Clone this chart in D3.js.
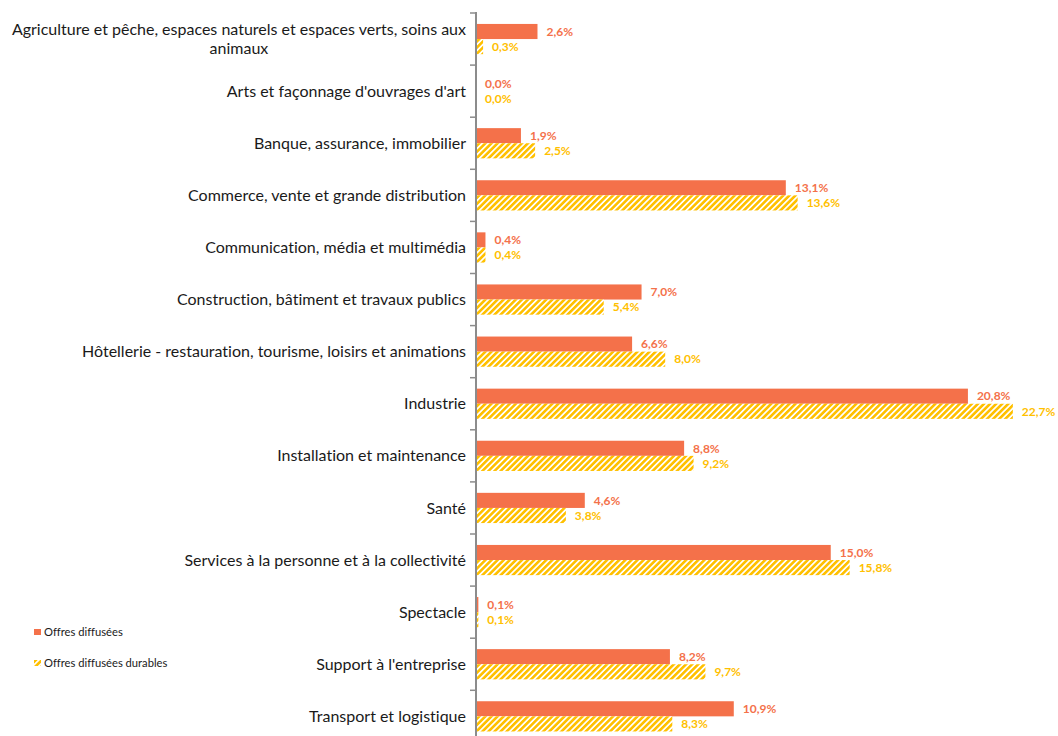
<!DOCTYPE html>
<html lang="fr">
  <head>
    <meta charset="utf-8">
    <title>Offres diffusées par secteur</title>
    <script src="https://d3js.org/d3.v7.min.js"></script>
    <style>
      body { margin: 0; background: #fff; }
      svg { display: block; font-family: Lato, "Open Sans", sans-serif; font-variant-ligatures: none; }
      .cat { font-size: 16px; fill: #1a1a1a; }
      .val { font-size: 12px; font-weight: bold; }
      .leg { font-size: 11.2px; fill: #1a1a1a; }
    </style>
  </head>
  <body>
    <svg id="chart" width="1058" height="736"></svg>
    <script>
      // data
      const categories = [
        "Agriculture et pêche, espaces naturels et espaces verts, soins aux|animaux",
        "Arts et façonnage d'ouvrages d'art",
        "Banque, assurance, immobilier",
        "Commerce, vente et grande distribution",
        "Communication, média et multimédia",
        "Construction, bâtiment et travaux publics",
        "Hôtellerie - restauration, tourisme, loisirs et animations",
        "Industrie",
        "Installation et maintenance",
        "Santé",
        "Services à la personne et à la collectivité",
        "Spectacle",
        "Support à l'entreprise",
        "Transport et logistique"
      ];
      const offres = [2.6, 0.0, 1.9, 13.1, 0.4, 7.0, 6.6, 20.8, 8.8, 4.6, 15.0, 0.1, 8.2, 10.9];
      const offresDurables = [0.3, 0.0, 2.5, 13.6, 0.4, 5.4, 8.0, 22.7, 9.2, 3.8, 15.8, 0.1, 9.7, 8.3];
      const seriesNames = ["Offres diffusées", "Offres diffusées durables"];

      const orange = "#f4714a";
      const yellow = "#ffc000";

      const svg = d3.select("#chart");

      const defs = svg.append("defs");
      const pat = defs.append("pattern")
        .attr("id", "stripes")
        .attr("patternUnits", "userSpaceOnUse")
        .attr("width", 4.3).attr("height", 4.3)
        .attr("patternTransform", "rotate(45)");
      pat.append("rect").attr("width", 4.3).attr("height", 4.3).attr("fill", "#fff");
      pat.append("rect").attr("width", 2.6).attr("height", 4.3).attr("fill", yellow);

      const x0 = 476;
      const x = d3.scaleLinear().domain([0, 25]).range([x0, x0 + 25 * 23.65]);
      const y = d3.scaleBand()
        .domain(d3.range(categories.length))
        .range([13, 13 + 52.1 * categories.length])
        .paddingInner(0.42).paddingOuter(0.21);
      const ys = d3.scaleBand().domain([0, 1]).range([0, y.bandwidth()]);

      const rows = categories.map((c, i) => ({ i, c, v: [offres[i], offresDurables[i]] }));

      const g = svg.selectAll("g.row").data(rows).join("g")
        .attr("class", "row")
        .attr("transform", d => `translate(0,${y(d.i)})`);

      // bars
      g.selectAll("rect").data(d => d.v).join("rect")
        .attr("x", x(0))
        .attr("y", (d, k) => ys(k))
        .attr("width", d => x(d) - x(0))
        .attr("height", ys.bandwidth())
        .attr("fill", (d, k) => k === 0 ? orange : "url(#stripes)");

      // value labels
      g.selectAll("text.val").data(d => d.v).join("text")
        .attr("class", "val")
        .attr("x", d => x(d) + 9)
        .attr("y", (d, k) => ys(k) + ys.bandwidth() / 2)
        .attr("dy", "0.35em")
        .attr("fill", (d, k) => k === 0 ? orange : yellow)
        .text(d => d3.format(".1f")(d).replace(".", ",") + "%");

      // category labels
      const labX = 466;
      svg.selectAll("text.cat").data(rows).join("text")
        .attr("class", "cat")
        .each(function(d) {
          const lines = d.c.split("|");
          const t = d3.select(this);
          const cy = y(d.i) + y.bandwidth() / 2;
          if (lines.length === 1) {
            t.attr("x", labX).attr("y", cy).attr("dy", "0.35em")
              .attr("text-anchor", "end").text(lines[0]);
          } else {
            const first = t.append("tspan").text(lines[0]);
            const w = first.node().getComputedTextLength();
            t.attr("text-anchor", "middle");
            first.attr("x", labX - w / 2).attr("y", cy - 9.5).attr("dy", "0.35em");
            t.append("tspan").text(lines[1])
              .attr("x", labX - w / 2).attr("y", cy + 9.5).attr("dy", "0.35em");
          }
        });

      // axis
      const step = y.step();
      const bounds = d3.range(categories.length + 1).map(i => 13 + i * step);
      svg.append("line")
        .attr("x1", x0).attr("x2", x0)
        .attr("y1", 12).attr("y2", 736)
        .attr("stroke", "#8c8c8c").attr("stroke-width", 2);
      svg.selectAll("line.tick").data(bounds).join("line")
        .attr("class", "tick")
        .attr("x1", x0 - 6).attr("x2", x0)
        .attr("y1", d => d).attr("y2", d => d)
        .attr("stroke", "#8c8c8c").attr("stroke-width", 1.5);

      // legend
      const leg = svg.selectAll("g.leg").data(seriesNames).join("g")
        .attr("class", "leg")
        .attr("transform", (d, k) => `translate(34,${629 + k * 31})`);
      leg.append("rect")
        .attr("width", 7).attr("height", 6)
        .attr("fill", (d, k) => k === 0 ? orange : "url(#stripes)");
      leg.append("text")
        .attr("class", "leg")
        .attr("x", 10).attr("y", 3).attr("dy", "0.35em")
        .text(d => d);
    </script>
  </body>
</html>
